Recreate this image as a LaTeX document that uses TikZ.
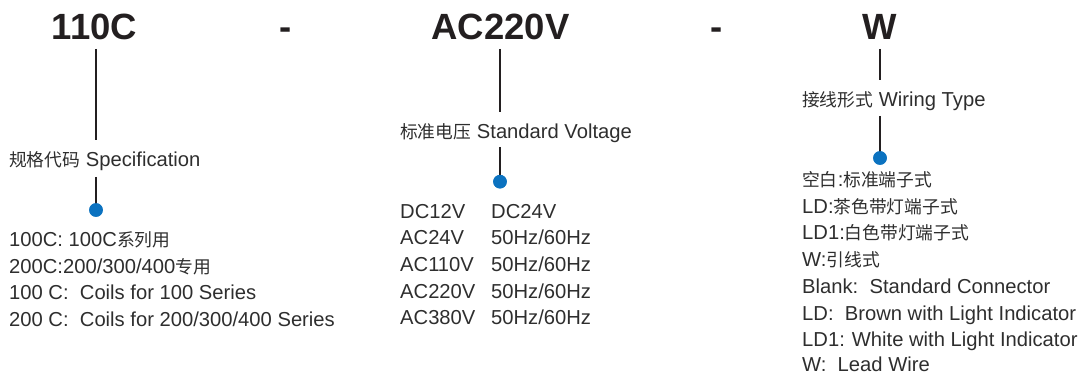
\documentclass[tikz,border=0pt]{standalone}
\usepackage{fontspec}
\setmainfont{Liberation Sans}
\newfontfamily\cjk{Noto Sans CJK SC}[Scale=0.88]
\newcommand\zh[1]{{\cjk #1}}
\definecolor{ink}{HTML}{2E2E2E}
\definecolor{titleink}{HTML}{231F20}
\definecolor{dotblue}{HTML}{0B72C0}
\begin{document}
\begin{tikzpicture}[x=1pt,y=-1pt,
  title/.style={anchor=base,inner sep=0pt,text=titleink,font=\fontsize{36.5}{36}\selectfont\bfseries},
  label/.style={anchor=base west,inner sep=0pt,text=ink,font=\fontsize{20.2}{22}\selectfont},
  item/.style={anchor=base west,inner sep=0pt,text=ink,font=\fontsize{20.2}{22}\selectfont},
  conn/.style={draw=titleink,line width=1.6pt},
  bullet/.style={circle,fill=dotblue,inner sep=0pt,minimum size=13.6pt}]
\useasboundingbox (0,0) rectangle (1080,374);
% titles
\node[title] (t1) at (94.5,40) {110C};
\node[title] (d1) at (285.5,40) {-};
\node[title] (t2) at (500.5,40) {AC220V};
\node[title] (d2) at (716.5,40) {-};
\node[title] (t3) at (880,40) {W};
% labels
\node[label] (l1) at (9,166.7) {\zh{规格代码} Specification};
\node[label] (l2) at (400,138.3) {\zh{标准电压} Standard Voltage};
\node[label] (l3) at (802,106.7) {\zh{接线形式} Wiring Type};
% connector end points
\coordinate (a1) at (96,49);  \coordinate (a2) at (96,140);
\coordinate (a3) at (96,177);
\coordinate (b1) at (500,49); \coordinate (b2) at (500,112);
\coordinate (b3) at (500,147);
\coordinate (c1) at (880,49); \coordinate (c2) at (880,80);
\coordinate (c3) at (880,116);
% dots
\node[bullet] (p1) at (96,210) {};
\node[bullet] (p2) at (500,181.7) {};
\node[bullet] (p3) at (880,158) {};
\draw[conn] (a1) -- (a2);
\draw[conn] (a3) -- (p1.center);
\draw[conn] (b1) -- (b2);
\draw[conn] (b3) -- (p2.center);
\draw[conn] (c1) -- (c2);
\draw[conn] (c3) -- (p3.center);
\node[bullet] at (p1) {};
\node[bullet] at (p2) {};
\node[bullet] at (p3) {};
% list 1
\node[item] (s1) at (9,246.7) {100C: 100C\zh{系列用}};
\node[item] (s2) at (9,273.3) {200C:200/300/400\zh{专用}};
\node[item] (s3) at (9,300) {100 C:\ \ Coils for 100 Series};
\node[item] (s4) at (9,326.7) {200 C:\ \ Coils for 200/300/400 Series};
% list 2
\node[item] (v1) at (400,218.3) {\makebox[91pt][l]{DC12V}DC24V};
\node[item] (v2) at (400,245) {\makebox[91pt][l]{AC24V}50Hz/60Hz};
\node[item] (v3) at (400,271.7) {\makebox[91pt][l]{AC110V}50Hz/60Hz};
\node[item] (v4) at (400,298.3) {\makebox[91pt][l]{AC220V}50Hz/60Hz};
\node[item] (v5) at (400,325) {\makebox[91pt][l]{AC380V}50Hz/60Hz};
% list 3
\node[item] (w1) at (802,186.7) {\zh{空白}:\zh{标准端子式}};
\node[item] (w2) at (802,213.3) {LD:\zh{茶色带灯端子式}};
\node[item] (w3) at (802,240) {LD1:\zh{白色带灯端子式}};
\node[item] (w4) at (802,266.7) {W:\zh{引线式}};
\node[item] (w5) at (802,293.3) {Blank:\ \ Standard Connector};
\node[item] (w6) at (802,320) {LD:\ \ Brown with Light Indicator};
\node[item] (w7) at (802,346.7) {LD1:\hspace{7pt}White with Light Indicator};
\node[item] (w8) at (802,371) {W:\ \ Lead Wire};
\end{tikzpicture}
\end{document}
